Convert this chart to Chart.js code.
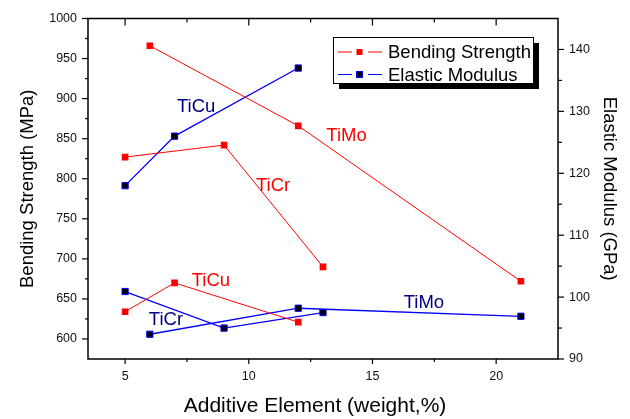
<!DOCTYPE html>
<html>
<head>
<meta charset="utf-8">
<script src="https://cdn.jsdelivr.net/npm/chart.js@4.4.1/dist/chart.umd.min.js"></script>
<style>
  html, body { margin: 0; padding: 0; background: #fff; }
  #wrap { width: 630px; height: 419px; }
</style>
</head>
<body>
<div id="wrap"><canvas id="chart"></canvas></div>
<script>
// ── Data ─────────────────────────────────────────────────────────────────────
const tiCuX    = [5, 7, 12];
const tiCuBend = [634, 670, 621];
const tiCuMod  = [118, 126, 137];

const tiCrX    = [5, 9, 13];
const tiCrBend = [827, 842, 690];
const tiCrMod  = [100.9, 95, 97.5];

const tiMoX    = [6, 12, 21];
const tiMoBend = [966, 866, 672];
const tiMoMod  = [94, 98.2, 96.9];

const xTicks     = [5, 10, 15, 20];
const xMinor     = [7.5, 12.5, 17.5];
const leftTicks  = [600, 650, 700, 750, 800, 850, 900, 950, 1000];
const leftMinor  = [625, 675, 725, 775, 825, 875, 925, 975];
const rightTicks = [90, 100, 110, 120, 130, 140];
const rightMinor = [95, 105, 115, 125, 135];

const legendItems = ['Bending Strength', 'Elastic Modulus'];

// labels placed in data units (x, bending-strength axis)
const annotations = [
  { text: 'TiCu', x: 7.87,  y: 889.5, color: '#000080' },
  { text: 'TiMo', x: 13.95, y: 853.6, color: '#ff0000' },
  { text: 'TiCr', x: 10.98, y: 790.5, color: '#ff0000' },
  { text: 'TiCu', x: 8.47,  y: 673,   color: '#ff0000' },
  { text: 'TiCr', x: 6.65,  y: 623.5, color: '#000080' },
  { text: 'TiMo', x: 17.08, y: 644.6, color: '#000080' },
];

// ── Helpers ──────────────────────────────────────────────────────────────────
const FONT = "'Liberation Sans', Arial, sans-serif";
const RED = '#ff0000', BLUE = '#0000ff';

const pts = (xs, ys) => xs.map((x, i) => ({ x, y: ys[i] }));

function bendSet(xs, ys) {
  return { data: pts(xs, ys), yAxisID: 'y', showLine: true, borderColor: RED, borderWidth: 1,
    pointStyle: 'rect', pointRadius: 4.7, pointBackgroundColor: RED, pointBorderColor: RED, pointBorderWidth: 0 };
}
function modSet(xs, ys) {
  return { data: pts(xs, ys), yAxisID: 'y1', showLine: true, borderColor: BLUE, borderWidth: 1.3,
    pointStyle: 'rect', pointRadius: 4.4, pointBackgroundColor: '#000', pointBorderColor: BLUE, pointBorderWidth: 1 };
}
const setTicks = list => scale => { scale.ticks = list.map(v => ({ value: v })); };
const plain = v => String(v);

// ── Frame, ticks, labels, legend ────────────────────────────────────────────
const overlay = {
  id: 'overlay',
  afterDatasetsDraw(chart) {
    const { ctx, chartArea: a, scales } = chart;
    const sx = scales.x, sl = scales.y, sr = scales.y1;
    ctx.save();
    ctx.strokeStyle = '#000';
    ctx.lineWidth = 1.5;
    ctx.strokeRect(a.left, a.top, a.right - a.left, a.bottom - a.top);

    ctx.lineWidth = 1.2;
    const seg = (x1, y1, x2, y2) => { ctx.beginPath(); ctx.moveTo(x1, y1); ctx.lineTo(x2, y2); ctx.stroke(); };
    xTicks.forEach(v => { const p = sx.getPixelForValue(v); seg(p, a.bottom, p, a.bottom + 5); seg(p, a.top, p, a.top + 7); });
    xMinor.forEach(v => { const p = sx.getPixelForValue(v); seg(p, a.bottom, p, a.bottom + 3); seg(p, a.top, p, a.top + 4); });
    leftTicks.forEach(v => { const p = sl.getPixelForValue(v); seg(a.left - 6, p, a.left, p); });
    leftMinor.forEach(v => { const p = sl.getPixelForValue(v); seg(a.left - 3, p, a.left, p); });
    rightTicks.forEach(v => { const p = sr.getPixelForValue(v); seg(a.right, p, a.right + 6, p); });
    rightMinor.forEach(v => { const p = sr.getPixelForValue(v); seg(a.right, p, a.right + 4, p); });

    // series labels
    ctx.font = '18.5px ' + FONT;
    ctx.textAlign = 'center'; ctx.textBaseline = 'middle';
    annotations.forEach(t => {
      ctx.fillStyle = t.color;
      ctx.fillText(t.text, sx.getPixelForValue(t.x), sl.getPixelForValue(t.y));
    });

    // bottom title
    ctx.fillStyle = '#000';
    ctx.font = '21px ' + FONT;
    ctx.fillText('Additive Element (weight,%)', (a.left + a.right) / 2 - 8, 406);

    // legend box with shadow
    const lx = 333, ly = 37, lw = 200, lh = 46;
    ctx.fillStyle = '#000';
    ctx.fillRect(lx + 6, ly + 6, lw, lh);
    ctx.fillStyle = '#fff';
    ctx.fillRect(lx, ly, lw, lh);
    ctx.lineWidth = 1;
    ctx.strokeRect(lx + 0.5, ly + 0.5, lw, lh);
    ctx.font = '18.5px ' + FONT;
    ctx.textAlign = 'left';
    legendItems.forEach((name, i) => {
      const cy = ly + 15 + i * 22.5;
      const col = i === 0 ? RED : BLUE;
      ctx.strokeStyle = col; ctx.lineWidth = 1;
      seg(lx + 5, cy, lx + 19, cy);
      seg(lx + 35, cy, lx + 49, cy);
      ctx.fillStyle = i === 0 ? RED : '#000';
      ctx.fillRect(lx + 23.5, cy - 3, 6, 6);
      if (i === 1) { ctx.strokeStyle = BLUE; ctx.strokeRect(lx + 23.5, cy - 3, 6, 6); }
      ctx.fillStyle = '#000';
      ctx.fillText(name, lx + 55, cy + 1);
    });
    ctx.restore();
  }
};

// ── Chart ────────────────────────────────────────────────────────────────────
new Chart(document.getElementById('chart'), {
  type: 'scatter',
  data: {
    datasets: [
      bendSet(tiCuX, tiCuBend), bendSet(tiCrX, tiCrBend), bendSet(tiMoX, tiMoBend),
      modSet(tiCuX, tiCuMod), modSet(tiCrX, tiCrMod), modSet(tiMoX, tiMoMod),
    ]
  },
  options: {
    responsive: true, maintainAspectRatio: false, animation: false,
    layout: { padding: { top: 16, left: 0, right: 0, bottom: 0 } },
    plugins: { legend: { display: false }, tooltip: { enabled: false } },
    scales: {
      x: {
        type: 'linear', position: 'bottom', min: 3.5, max: 22.5,
        afterBuildTicks: setTicks(xTicks),
        afterFit: s => { s.height = 60; },
        grid: { display: false, drawTicks: false }, border: { display: false },
        ticks: { padding: 10, color: '#111', font: { family: FONT, size: 12.5 }, callback: plain },
      },
      y: {
        type: 'linear', position: 'left', min: 575, max: 1000,
        afterBuildTicks: setTicks(leftTicks),
        afterFit: s => { s.width = 88; },
        grid: { display: false, drawTicks: false }, border: { display: false },
        ticks: { padding: 11, color: '#111', font: { family: FONT, size: 12.5 }, callback: plain },
        title: { display: true, text: 'Bending Strength (MPa)', color: '#000',
          font: { family: FONT, size: 18.5 }, padding: { top: 17, bottom: 0 } },
      },
      y1: {
        type: 'linear', position: 'right', min: 90, max: 145,
        afterBuildTicks: setTicks(rightTicks),
        afterFit: s => { s.width = 72; },
        grid: { display: false, drawTicks: false }, border: { display: false },
        ticks: { padding: 11, color: '#111', font: { family: FONT, size: 12.5 }, callback: plain },
        title: { display: true, text: 'Elastic Modulus (GPa)', color: '#000',
          font: { family: FONT, size: 18.5 }, padding: { top: 10, bottom: 0 } },
      },
    }
  },
  plugins: [overlay]
});
</script>
</body>
</html>
